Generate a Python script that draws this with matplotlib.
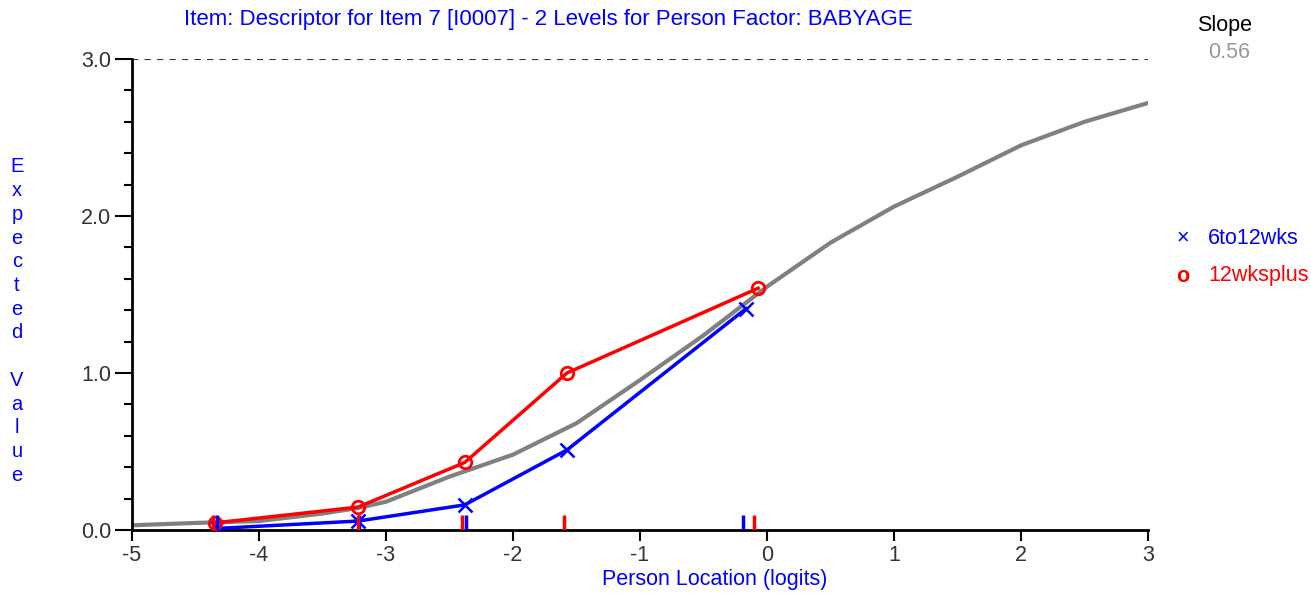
import numpy as np
import matplotlib
matplotlib.use("Agg")
import matplotlib.pyplot as plt
from matplotlib.ticker import MultipleLocator, FormatStrFormatter

# --- data ------------------------------------------------------------------
# expected-value curve (grey)
curve_x = [-5.0, -4.5, -4.0, -3.5, -3.22, -3.0, -2.5, -2.0, -1.5, -1.0,
           -0.5, 0.0, 0.5, 1.0, 1.5, 2.0, 2.5, 3.0]
curve_y = [0.03, 0.045, 0.057, 0.105, 0.14, 0.18, 0.34, 0.48, 0.68, 0.955,
           1.24, 1.55, 1.83, 2.06, 2.25, 2.45, 2.60, 2.72]

# class-interval observed means per person-factor level
groups = ["6to12wks", "12wksplus"]
blue_x = [-4.33, -3.22, -2.38, -1.575, -0.165]
blue_y = [0.01, 0.057, 0.16, 0.51, 1.41]
red_x = [-4.35, -3.22, -2.38, -1.575, -0.07]
red_y = [0.045, 0.146, 0.43, 1.00, 1.54]

# location markers along the x axis
blue_marks = [-4.33, -3.21, -2.37, -0.19]
red_marks = [-4.36, -3.22, -2.40, -1.60, -0.10]

slope = 0.56
title = "Item: Descriptor for Item 7 [I0007] - 2 Levels for Person Factor: BABYAGE"
ylabel = "Expected Value"

BLUE = "#0000ff"
RED = "#ff0000"
GREY = "#808080"
W, H = 1311, 595
FS = 15.5

plt.rcParams["font.family"] = ["Liberation Sans", "DejaVu Sans"]

fig = plt.figure(figsize=(W / 100, H / 100), dpi=100)
ax = fig.add_axes([132 / W, 1 - 530 / H, (1148 - 132) / W, (530 - 59) / H])

ax.axhline(3.0, color="#333333", ls=(0, (3, 3)), lw=1.5, zorder=1)
ax.plot(curve_x, curve_y, "-", color=GREY, lw=3, zorder=2)
ax.plot(blue_x, blue_y, "-", color=BLUE, lw=2.5, marker="x", ms=10, mew=1.8, zorder=3)
ax.plot(red_x, red_y, "-", color=RED, lw=2.5, marker="o", ms=9, mew=2,
        mfc="none", zorder=4)
ax.vlines(blue_marks, 0, 0.095, color=BLUE, lw=2.5, zorder=5)
ax.vlines(red_marks, 0, 0.095, color=RED, lw=2.5, zorder=5)

ax.set_xlim(-5, 3)
ax.set_ylim(0, 3.0)
ax.xaxis.set_major_locator(MultipleLocator(1))
ax.yaxis.set_major_locator(MultipleLocator(1))
ax.yaxis.set_minor_locator(MultipleLocator(0.2))
ax.yaxis.set_major_formatter(FormatStrFormatter("%.1f"))
ax.xaxis.set_major_formatter(FormatStrFormatter("%d"))

for s in ["top", "right"]:
    ax.spines[s].set_visible(False)
for s in ["left", "bottom"]:
    ax.spines[s].set_linewidth(2)
    ax.spines[s].set_color("black")

ax.tick_params(axis="y", which="major", length=12, width=1.5, labelsize=FS,
               labelcolor="#333333", pad=3)
ax.tick_params(axis="y", which="minor", length=6, width=1.5)
ax.tick_params(axis="x", which="major", length=8, width=1.5, labelsize=FS,
               labelcolor="#333333", pad=3)

fig.text(548 / W, 1 - 20 / H, title, color=BLUE, fontsize=16,
         ha="center", va="center")
fig.text(715 / W, 1 - 580 / H, "Person Location (logits)", color=BLUE,
         fontsize=FS, ha="center", va="center")

# stacked vertical y label, one character per line
for i, ch in enumerate(ylabel):
    fig.text(17 / W, 1 - (167 + 23.7 * i) / H, ch, color=BLUE, fontsize=FS - 1,
             ha="center", va="center")

fig.text(1225 / W, 1 - 25 / H, "Slope", color="black", fontsize=FS,
         ha="center", va="center")
fig.text(1229 / W, 1 - 53 / H, f"{slope:.2f}", color="#999999", fontsize=FS,
         ha="center", va="center")

fig.text(1183 / W, 1 - 238 / H, "\u00d7", color=BLUE, fontsize=FS,
         ha="center", va="center")
fig.text(1208 / W, 1 - 238 / H, groups[0], color=BLUE, fontsize=FS,
         ha="left", va="center")
fig.text(1183 / W, 1 - 276 / H, "o", color=RED, fontsize=FS, fontweight="bold",
         ha="center", va="center")
fig.text(1208 / W, 1 - 276 / H, groups[1], color=RED, fontsize=FS,
         ha="left", va="center")

fig.savefig("out.png", dpi=100)
